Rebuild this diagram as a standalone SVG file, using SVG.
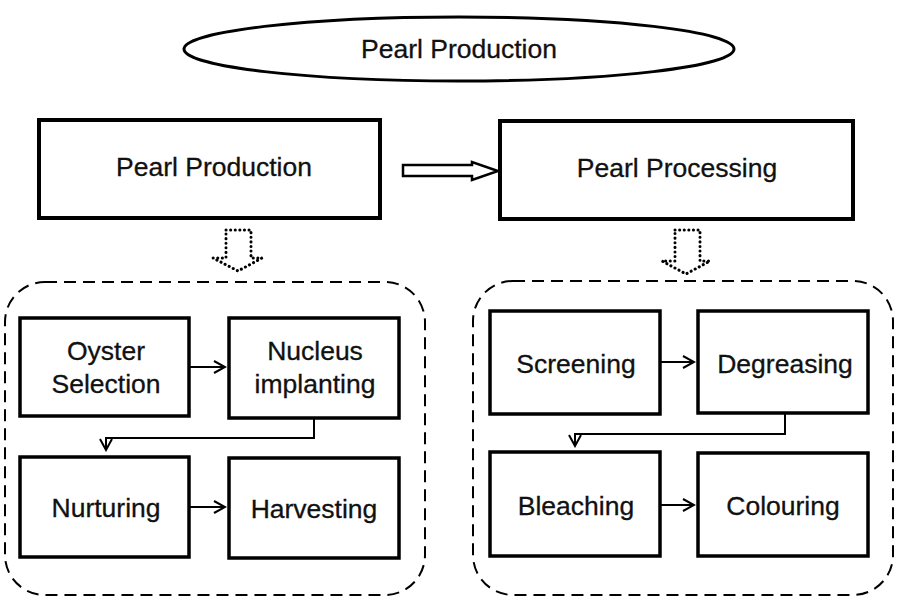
<svg xmlns="http://www.w3.org/2000/svg" width="900" height="600" viewBox="0 0 900 600">
<style>
.box{fill:#fff;stroke:#000;stroke-width:3.5}
.big{fill:#fff;stroke:#000;stroke-width:4}
.grp{fill:none;stroke:#000;stroke-width:2;stroke-dasharray:12,7}
.t{font-family:"Liberation Sans",Arial,sans-serif;font-size:26.5px;fill:#111;stroke:#111;stroke-width:0.3;text-anchor:middle}
.c{fill:none;stroke:#000;stroke-width:2}
.dot{fill:#fff;stroke:#000;stroke-width:3;stroke-dasharray:0.1,4.5;stroke-linecap:round}
</style>
<defs>
<marker id="ah" markerWidth="14" markerHeight="14" refX="12" refY="7" orient="auto" markerUnits="userSpaceOnUse">
<path d="M1,1 L12,7 L1,13" fill="none" stroke="#000" stroke-width="2"/>
</marker>
</defs>
<rect width="900" height="600" fill="#fff"/>
<g id="title">
<ellipse cx="459" cy="49" rx="275" ry="32" fill="#fff" stroke="#000" stroke-width="3"/>
<text class="t" x="459" y="58">Pearl Production</text>
</g>
<g id="production">
<rect class="big" x="39" y="120" width="341" height="98"/>
<text class="t" x="214" y="176">Pearl Production</text>
</g>
<g id="processing">
<rect class="big" x="500" y="121" width="353" height="98"/>
<text class="t" x="677" y="177">Pearl Processing</text>
</g>
<g id="group-left"><rect class="grp" x="5" y="282" width="420" height="313" rx="40"/></g>
<g id="group-right"><rect class="grp" x="473" y="281" width="420" height="314" rx="40"/></g>
<g id="oyster">
<rect class="box" x="20" y="318" width="169" height="98"/>
<text class="t" x="106" y="360">Oyster</text>
<text class="t" x="106" y="393">Selection</text>
</g>
<g id="nucleus">
<rect class="box" x="229" y="318" width="170" height="100"/>
<text class="t" x="315" y="360">Nucleus</text>
<text class="t" x="315" y="393">implanting</text>
</g>
<g id="nurturing">
<rect class="box" x="20" y="457" width="169" height="100"/>
<text class="t" x="106" y="517">Nurturing</text>
</g>
<g id="harvesting">
<rect class="box" x="229" y="458" width="170" height="100"/>
<text class="t" x="314" y="518">Harvesting</text>
</g>
<g id="screening">
<rect class="box" x="490" y="311" width="170" height="103"/>
<text class="t" x="576" y="373">Screening</text>
</g>
<g id="degreasing">
<rect class="box" x="698" y="311" width="170" height="102"/>
<text class="t" x="785" y="373">Degreasing</text>
</g>
<g id="bleaching">
<rect class="box" x="490" y="452" width="170" height="104"/>
<text class="t" x="576" y="515">Bleaching</text>
</g>
<g id="colouring">
<rect class="box" x="698" y="453" width="170" height="103"/>
<text class="t" x="783" y="515">Colouring</text>
</g>
<g id="connectors">
<path d="M403,165 L472,165 L472,162 L498,171 L472,180 L472,176 L403,176 Z" fill="#fff" stroke="#000" stroke-width="2.5"/>
<path class="dot" d="M226,230 L251,230 L251,258 L262,258 L238,271 L213,258 L226,258 Z"/>
<path class="dot" d="M675,230 L700,230 L700,261 L710,261 L686,274 L662,261 L675,261 Z"/>
<line class="c" x1="189" y1="367" x2="225" y2="367" marker-end="url(#ah)"/>
<line class="c" x1="189" y1="507" x2="225" y2="507" marker-end="url(#ah)"/>
<line class="c" x1="660" y1="362" x2="694" y2="362" marker-end="url(#ah)"/>
<line class="c" x1="660" y1="505" x2="694" y2="505" marker-end="url(#ah)"/>
<path class="c" d="M314,418 L314,438 L106,438 L106,450" marker-end="url(#ah)"/>
<path class="c" d="M785,413 L785,434 L575,434 L575,446" marker-end="url(#ah)"/>
</g>
</svg>
